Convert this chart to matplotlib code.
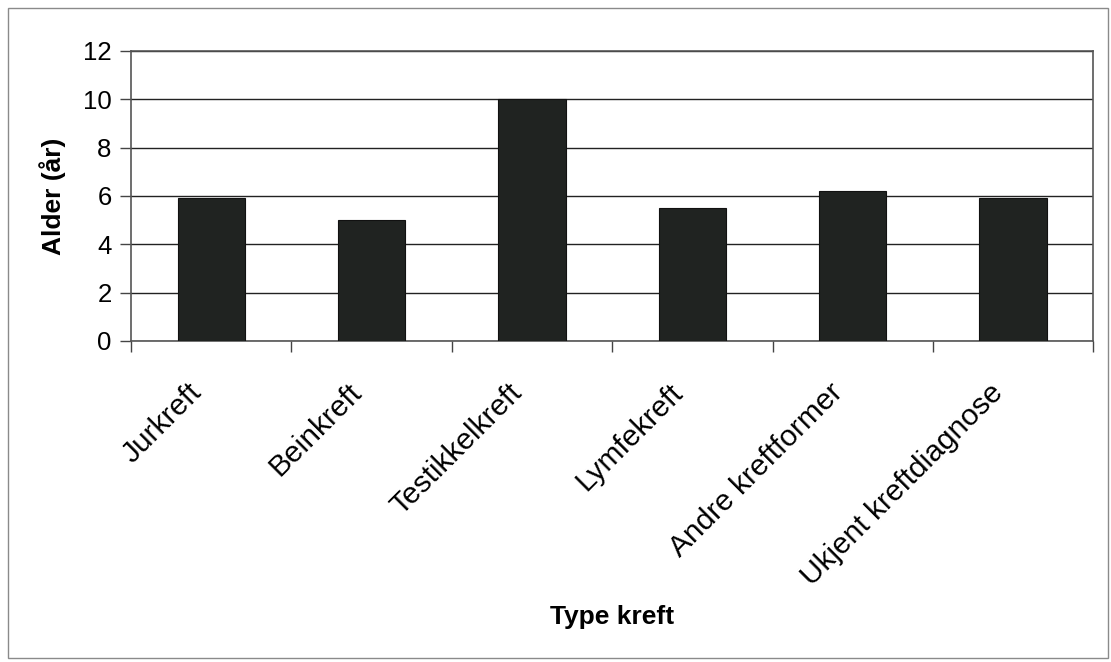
import matplotlib
matplotlib.use("Agg")
import matplotlib.pyplot as plt
import matplotlib.transforms as mtransforms
from matplotlib.patches import Rectangle
from matplotlib.ticker import FixedLocator, NullFormatter

plt.rcParams['font.family'] = ['Liberation Sans', 'DejaVu Sans']

categories = ["Jurkreft", "Beinkreft", "Testikkelkreft", "Lymfekreft",
              "Andre kreftformer", "Ukjent kreftdiagnose"]
ages = [5.9, 5.0, 10.0, 5.5, 6.2, 5.9]
y_ticks = [0, 2, 4, 6, 8, 10, 12]

fig = plt.figure(figsize=(11.11, 6.62), dpi=100)
fig.patch.set_facecolor('white')

# thin grey frame around the whole chart
fig.patches.append(Rectangle((0.007, 0.006), 0.990, 0.982, transform=fig.transFigure,
                             fill=False, edgecolor='#8a8a8a', linewidth=1.0))

ax = fig.add_axes([0.118, 0.485, 0.866, 0.438])
x = range(len(categories))
ax.bar(x, ages, width=0.42, color='#202321', edgecolor='#111111',
       linewidth=0.8, zorder=3)

ax.set_xlim(-0.5, len(categories) - 0.5)
ax.set_ylim(0, 12)
ax.set_yticks(y_ticks)
ax.set_yticklabels([str(t) for t in y_ticks], fontsize=18.5)
ax.yaxis.grid(True, color='#222222', linewidth=1.0, zorder=1)
ax.set_axisbelow(True)

# category labels at bar centres, tick marks at category boundaries
ax.set_xticks(list(x))
ax.set_xticklabels(categories, fontsize=21.5, rotation=45, ha='right',
                   rotation_mode='anchor')
ax.tick_params(axis='x', length=0, pad=27)
shift = mtransforms.ScaledTranslation(-24 / 100, 0, fig.dpi_scale_trans)
for lbl in ax.get_xticklabels():
    lbl.set_transform(lbl.get_transform() + shift)
ax.xaxis.set_minor_locator(FixedLocator([i - 0.5 for i in range(len(categories) + 1)]))
ax.xaxis.set_minor_formatter(NullFormatter())
ax.tick_params(axis='x', which='minor', length=8, width=1, color='#444444', direction='out')
ax.tick_params(axis='y', length=8, width=1, color='#444444', direction='out', pad=6)

for side in ['left', 'right', 'top', 'bottom']:
    ax.spines[side].set_color('#555555')
    ax.spines[side].set_linewidth(1.2)

ax.set_ylabel("Alder (år)", fontsize=19, fontweight='bold', labelpad=12)
fig.text(0.551, 0.068, "Type kreft", fontsize=19, fontweight='bold',
         ha='center', va='center')

fig.savefig("out.png", dpi=100, facecolor='white')
